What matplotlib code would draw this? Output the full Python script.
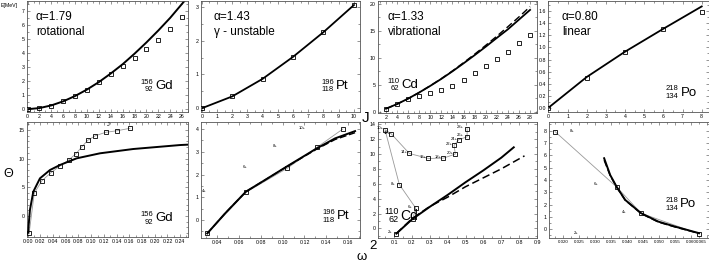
import matplotlib
matplotlib.use('Agg')
import matplotlib.pyplot as plt
from matplotlib.ticker import MultipleLocator, FormatStrFormatter

plt.rcParams['font.family'] = ['Liberation Sans', 'DejaVu Sans']

W, H = 709, 267

# ---- top row: E [MeV] vs J ----
gd_J = [0, 2, 4, 6, 8, 10, 12, 14, 16, 18, 20, 22, 24, 26]
gd_E = [0, 0.07, 0.26, 0.56, 0.95, 1.40, 1.92, 2.47, 3.06, 3.66, 4.27, 4.95, 5.70, 6.57]
gd_fit_J = [0, 2, 4, 6, 8, 10, 12, 14, 16, 18, 20, 22, 24, 26, 27]
gd_fit_E = [0, 0.08, 0.27, 0.56, 0.94, 1.40, 1.93, 2.54, 3.20, 3.95, 4.75, 5.60, 6.50, 7.50, 8.00]

pt_J = [0, 2, 4, 6, 8, 10]
pt_E = [0, 0.35, 0.87, 1.51, 2.24, 3.04]
pt_fit_E = [0, 0.35, 0.87, 1.52, 2.25, 3.05]

cd_J = [2, 4, 6, 8, 10, 12, 14, 16, 18, 20, 22, 24, 26, 28]
cd_E = [0.55, 1.40, 2.35, 3.00, 3.45, 4.05, 4.85, 5.95, 7.25, 8.55, 9.85, 11.15, 12.70, 14.20]
cd_fit_E = [0.56, 1.42, 2.43, 3.57, 4.80, 6.10, 7.50, 8.98, 10.50, 12.07, 13.70, 15.30, 17.10, 18.90]
cd_fit2_E = [0.55, 1.40, 2.42, 3.57, 4.82, 6.15, 7.58, 9.10, 10.68, 12.32, 14.02, 15.78, 17.60, 19.50]

po_J = [0, 2, 4, 6, 8]
po_E = [0, 0.50, 0.93, 1.31, 1.58]
po_fit_E = [0, 0.51, 0.93, 1.31, 1.68]

# ---- bottom row: Theta vs omega^2 ----
gd_w2 = [0.0025, 0.0104, 0.0225, 0.0367, 0.0509, 0.0646, 0.0761, 0.0855, 0.0945, 0.1065, 0.1228, 0.1411, 0.1611]
gd_th = [-2.9, 3.96, 6.16, 7.56, 8.72, 9.77, 10.87, 12.09, 13.2, 14.0, 14.6, 14.88, 15.3]
gd_fit_w2 = [0.0009, 0.0016, 0.0036, 0.0089, 0.0194, 0.0351, 0.0509, 0.0771, 0.1139, 0.1663, 0.2398, 0.2524]
gd_fit_th = [-2.9, -1.57, 1.05, 4.24, 6.57, 8.02, 8.9, 10.06, 10.94, 11.69, 12.38, 12.45]

pt_w2 = [0.0314, 0.0667, 0.1041, 0.1312, 0.1549]
pt_th = [-0.59, 1.22, 2.27, 3.19, 4.0]
pt_fit_w2 = [0.0314, 0.0476, 0.0667, 0.084, 0.1041, 0.1312, 0.1479, 0.1661]
pt_fit_th = [-0.59, 0.29, 1.25, 1.76, 2.36, 3.15, 3.59, 3.91]
pt_fit2_th = [-0.59, 0.29, 1.25, 1.76, 2.35, 3.12, 3.54, 3.84]
pt_levels = ['4+', '6+', '8+', '10+']
pt_lab_w2 = [0.0287, 0.0661, 0.0929, 0.118]
pt_lab_th = [1.27, 2.33, 3.25, 4.06]

cd_w2 = [0.1129, 0.2047, 0.2215, 0.1297, 0.0496, 0.0849, 0.1857, 0.292, 0.376, 0.443, 0.436, 0.462, 0.509, 0.509]
cd_th = [-0.71, 1.27, 2.73, 5.9, 13.27, 12.7, 10.07, 9.4, 9.44, 9.99, 11.17, 11.93, 12.3, 13.4]
cd_levels = ['2+', '6+', '8+', '10+', '12+', '14+', '16+', '18+', '20+', '22+', '24+', '26+', '28+']
cd_lab_w2 = [0.0776, 0.19, 0.096, 0.0216, 0.059, 0.156, 0.265, 0.349, 0.415, 0.407, 0.437, 0.473, 0.473]
cd_lab_th = [-0.54, 2.87, 5.92, 13.5, 12.86, 10.3, 9.63, 9.63, 10.1, 11.36, 12.0, 12.56, 13.6]
cd_fit_w2 = [0.113, 0.2, 0.3, 0.4, 0.5, 0.6, 0.7, 0.77]
cd_fit_th = [-0.7, 1.2, 2.9, 4.5, 6.2, 7.8, 9.5, 10.9]
cd_fit2_w2 = [0.113, 0.2, 0.3, 0.4, 0.5, 0.6, 0.7, 0.83]
cd_fit2_th = [-0.7, 1.3, 2.95, 4.2, 5.6, 6.8, 8.0, 9.75]

po_w2 = [0.0174, 0.0368, 0.0444, 0.0626]
po_th = [7.92, 3.41, 1.30, -0.38]
po_levels = ['8+', '6+', '4+', '2+']
po_lab_w2 = [0.0226, 0.0303, 0.039, 0.0239]
po_lab_th = [7.97, 3.65, 1.38, -0.27]
po_fit_w2 = [0.0328, 0.0347, 0.0368, 0.0394, 0.0444, 0.0498, 0.0551, 0.0626]
po_fit_th = [5.76, 4.40, 3.41, 2.38, 1.30, 0.62, 0.21, -0.32]
po_fit2_th = [5.60, 4.35, 3.38, 2.36, 1.27, 0.58, 0.18, -0.34]
po_xticks = ['0.020', '0.025', '0.030', '0.035', '0.040', '0.045', '0.050', '0.055', '0.060', '0.065']

fig = plt.figure(figsize=(W / 100, H / 100), dpi=100)


def panel(l, r, t, b):
    return fig.add_axes([l / W, 1 - b / H, (r - l) / W, (b - t) / H])


def style(ax, xlim, ylim, xmaj, xmin, ymaj, ymin, xfmt, yfmt):
    ax.set_xlim(*xlim)
    ax.set_ylim(*ylim)
    ax.xaxis.set_major_locator(MultipleLocator(xmaj))
    ax.xaxis.set_minor_locator(MultipleLocator(xmin))
    ax.yaxis.set_major_locator(MultipleLocator(ymaj))
    ax.yaxis.set_minor_locator(MultipleLocator(ymin))
    ax.xaxis.set_major_formatter(FormatStrFormatter(xfmt))
    ax.yaxis.set_major_formatter(FormatStrFormatter(yfmt))
    ax.tick_params(which='both', direction='in', top=True, right=True,
                   labelsize=3.8, width=0.4, pad=1.5, color='#444')
    ax.tick_params(which='major', length=2.5)
    ax.tick_params(which='minor', length=1.3)
    for s in ax.spines.values():
        s.set_linewidth(0.6)
        s.set_color('#555')


def ftxt(px, py, s, **kw):
    fig.text(px / W, 1 - py / H, s, **kw)


def nuc(px, py, A, Z, sym, nsize=5.5, ssize=9.5):
    ftxt(px, py - 4, A, fontsize=nsize, ha='right', va='center')
    ftxt(px, py + 4, Z, fontsize=nsize, ha='right', va='center')
    ftxt(px + 2, py, sym, fontsize=ssize, ha='left', va='center')


def squares(ax, x, y):
    ax.plot(x, y, 's', ms=3.4, mfc='none', mec='black', mew=0.6, zorder=4)


def chain(ax, x, y):
    ax.plot(x, y, '-', color='#999999', lw=0.6, zorder=2)
    squares(ax, x, y)


# top row
ax1 = panel(27, 188, 1, 112)
ax1.plot(gd_fit_J, gd_fit_E, color='black', lw=1.4)
squares(ax1, gd_J, gd_E)
style(ax1, (-0.1, 27), (-0.2, 7.7), 2, 1, 1, 0.5, '%d', '%d')

ax2 = panel(201, 360, 1, 112)
ax2.plot(pt_J, pt_fit_E, color='black', lw=1.3)
squares(ax2, pt_J, pt_E)
style(ax2, (-0.05, 10.4), (-0.11, 3.17), 1, 0.5, 1, 0.5, '%d', '%d')

ax3 = panel(378, 537, 1, 113)
ax3.plot(cd_J, cd_fit_E, color='black', lw=1.3)
ax3.plot(cd_J, cd_fit2_E, color='black', lw=1.0, ls=(0, (5, 2.5)))
squares(ax3, cd_J, cd_E)
style(ax3, (0.56, 29.25), (-0.24, 20.55), 2, 1, 5, 2.5, '%d', '%d')

ax4 = panel(548, 709, 1, 112)
ax4.plot(po_J, po_fit_E, color='black', lw=1.3)
squares(ax4, po_J, po_E)
style(ax4, (-0.02, 8.38), (-0.07, 1.77), 1, 0.5, 0.2, 0.1, '%d', '%.1f')

# bottom row
ax5 = panel(27, 188, 122, 237)
chain(ax5, gd_w2, gd_th)
ax5.plot(gd_fit_w2, gd_fit_th, color='black', lw=1.4, zorder=3)
style(ax5, (-0.001, 0.2524), (-3.66, 16.4), 0.02, 0.01, 5, 1, '%.2f', '%d')
ax5.text(0.1265, 15.9, 'J', fontsize=4, ha='center', va='center')

ax6 = panel(201, 360, 122, 238)
chain(ax6, pt_w2, pt_th)
ax6.plot(pt_fit_w2, pt_fit_th, color='black', lw=1.4, zorder=3)
ax6.plot(pt_fit_w2, pt_fit2_th, color='black', lw=1.0, ls=(0, (5, 2)), zorder=3)
for lab, x, y in zip(pt_levels, pt_lab_w2, pt_lab_th):
    ax6.text(x, y, lab, fontsize=3, ha='center', va='center')
style(ax6, (0.0257, 0.1706), (-0.79, 4.31), 0.02, 0.01, 1, 0.5, '%.2f', '%d')

ax7 = panel(378, 537, 122, 238)
chain(ax7, cd_w2, cd_th)
ax7.plot(cd_fit_w2, cd_fit_th, color='black', lw=1.4, zorder=3)
ax7.plot(cd_fit2_w2, cd_fit2_th, color='black', lw=1.1, ls=(0, (5, 2.5)), zorder=3)
for lab, x, y in zip(cd_levels, cd_lab_w2, cd_lab_th):
    ax7.text(x, y, lab, fontsize=3, ha='center', va='center')
style(ax7, (0.0104, 0.9), (-1.29, 14.3), 0.1, 0.05, 2, 1, '%.1f', '%d')

ax8 = panel(549, 709, 122, 238)
chain(ax8, po_w2, po_th)
ax8.plot(po_fit_w2, po_fit_th, color='black', lw=1.4, zorder=3)
ax8.plot(po_fit_w2, po_fit2_th, color='black', lw=1.0, ls=(0, (5, 2)), zorder=3)
for lab, x, y in zip(po_levels, po_lab_w2, po_lab_th):
    ax8.text(x, y, lab, fontsize=3, ha='center', va='center')
style(ax8, (0.0155, 0.0657), (-0.71, 8.7), 0.005, 0.0025, 1, 0.5, '%.3f', '%d')
ax8.set_xticks([float(t) for t in po_xticks])
ax8.set_xticklabels(po_xticks)
ax8.tick_params(axis='x', labelsize=3.2)
ax8.get_xticklabels()[-1].set_ha('right')

# model labels
for px, l1, l2 in [(36, '\u03b1=1.79', 'rotational'), (214, '\u03b1=1.43', '\u03b3 - unstable'),
                   (388, '\u03b1=1.33', 'vibrational'), (562, '\u03b1=0.80', 'linear')]:
    ftxt(px, 17, l1, fontsize=8.5, ha='left', va='center')
    ftxt(px, 32, l2, fontsize=8.5, ha='left', va='center')

nuc(153, 86, '156', '92', 'Gd')
nuc(334, 86, '196', '118', 'Pt')
nuc(399.5, 85, '110', '62', 'Cd')
nuc(678.5, 93, '218', '134', 'Po')
nuc(153.5, 218, '156', '92', 'Gd')
nuc(335, 216, '196', '118', 'Pt')
nuc(398.5, 216, '110', '62', 'Cd', nsize=6.5, ssize=10)
nuc(678, 204, '218', '134', 'Po')

# axis labels
ftxt(9, 5.5, 'E[MeV]', fontsize=3.8, ha='center', va='center')
ftxt(366, 118, 'J', fontsize=11, ha='center', va='center')
ftxt(8, 174, '\u0398', fontsize=9, ha='center', va='center')
ftxt(362, 257, '\u03c9', fontsize=9.5, ha='center', va='center')
ftxt(373, 246, '2', fontsize=9.5, ha='center', va='center')

fig.savefig('out.png', dpi=100)
